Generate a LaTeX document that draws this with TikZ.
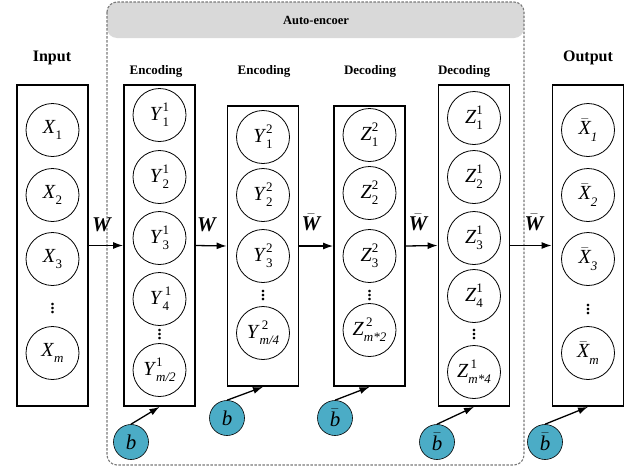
\documentclass[tikz,border=0pt]{standalone}
\usepackage{fontspec}
\setmainfont{Liberation Serif}
\usetikzlibrary{arrows.meta}
\definecolor{biasc}{HTML}{4BACC6}
\definecolor{hdrc}{HTML}{D9D9D9}
\definecolor{dashc}{HTML}{7A7A7A}
\newcommand{\scrf}{\fontsize{13}{13}\selectfont}
\newcommand{\uvar}[3]{\textit{#1}\rlap{\raisebox{0.42em}{\scrf #2}}\raisebox{-0.32em}{\scrf #3}}
\newcommand{\lvar}[2]{\textit{#1}\raisebox{-0.32em}{\scrf #2}}
\newcommand{\barvar}[2]{$\bar{\hbox{\itshape #1}}$\raisebox{-0.32em}{\scrf\itshape #2}}
\newcommand{\bW}{\textbf{\textit{W}}}
\newcommand{\bbW}{$\bar{\hbox{\bfseries\itshape W}}$}
\begin{document}
\begin{tikzpicture}[x=1pt,y=-1pt,
  layer/.style={draw, line width=1.8pt, inner sep=0, minimum width=71pt},
  unit/.style={circle, draw, line width=0.8pt, minimum size=53pt, inner sep=0, font=\fontsize{20}{20}\selectfont},
  vd/.style={inner sep=0, font=\fontsize{22}{22}\selectfont},
  bias/.style={circle, draw, line width=0.6pt, fill=biasc, minimum size=35pt, inner sep=0, font=\fontsize{21}{21}\selectfont},
  wlab/.style={font=\fontsize{21}{21}\selectfont, inner sep=0},
  arr/.style={line width=1.3pt, -{Latex[length=10pt,width=7pt]}},
  maintitle/.style={font=\bfseries\fontsize{16}{16}\selectfont},
  subtitle/.style={font=\bfseries\fontsize{13}{13}\selectfont}]
\useasboundingbox (0,0) rectangle (636,469);

% auto-encoder frame
\fill[hdrc, rounded corners=10pt] (107,2) rectangle (524,38);
\draw[dashc, line width=1.1pt, dash pattern=on 2.5pt off 1.5pt, rounded corners=10pt] (107,2) rectangle (524,465);
\node[font=\bfseries\fontsize{12.5}{12.5}\selectfont] (ae) at (316,20) {Auto-encoer};

% titles
\node[maintitle] (tin) at (52,58) {Input};
\node[maintitle] (tout) at (588,58) {Output};
\node[subtitle] (te1) at (156,71) {Encoding};
\node[subtitle] (te2) at (264,71) {Encoding};
\node[subtitle] (td1) at (370,71) {Decoding};
\node[subtitle] (td2) at (464,71) {Decoding};

% layer boxes
\node[layer, minimum height=321pt] (in) at (52.5,245.5) {};
\node[layer, minimum height=321pt] (e1) at (159.5,245.5) {};
\node[layer, minimum height=280pt] (e2) at (263,246) {};
\node[layer, minimum height=280pt] (d1) at (369.5,246) {};
\node[layer, minimum height=321pt] (d2) at (474,245.5) {};
\node[layer, minimum height=321pt] (out) at (588,245.5) {};

% input units
\node[unit] (x1) at (52.5,130) {\lvar{X}{1}};
\node[unit] (x2) at (52.5,195) {\lvar{X}{2}};
\node[unit] (x3) at (52.5,259) {\lvar{X}{3}};
\node[vd] (xd) at (52.5,306) {$\vdots$};
\node[unit] (xm) at (52.5,353) {\lvar{X}{\itshape m}};

% encoding 1
\node[unit] (y11) at (159.5,115) {\uvar{Y}{1}{1}};
\node[unit] (y12) at (159.5,177) {\uvar{Y}{1}{2}};
\node[unit] (y13) at (159.5,238) {\uvar{Y}{1}{3}};
\node[unit] (y14) at (159.5,299) {\uvar{Y}{\,1}{4}};
\node[vd] (y1d) at (159.5,332) {$\vdots$};
\node[unit] (y1m) at (159.5,370) {\uvar{Y}{1}{\itshape m/2}};

% encoding 2
\node[unit] (y21) at (263,137) {\uvar{Y}{2}{1}};
\node[unit] (y22) at (263,195) {\uvar{Y}{2}{2}};
\node[unit] (y23) at (263,256) {\uvar{Y}{2}{3}};
\node[vd] (y2d) at (263,293) {$\vdots$};
\node[unit] (y2m) at (263,333) {\uvar{Y}{\,2}{\itshape m/4}};

% decoding 1
\node[unit] (z21) at (369.5,135) {\uvar{Z}{2}{1}};
\node[unit] (z22) at (369.5,193) {\uvar{Z}{2}{2}};
\node[unit] (z23) at (369.5,256) {\uvar{Z}{2}{3}};
\node[vd] (z2d) at (369.5,293) {$\vdots$};
\node[unit] (z2m) at (369.5,330) {\uvar{Z}{\,2}{\itshape m*2}};

% decoding 2
\node[unit] (z11) at (474,118) {\uvar{Z}{1}{1}};
\node[unit] (z12) at (474,177) {\uvar{Z}{1}{2}};
\node[unit] (z13) at (474,238) {\uvar{Z}{1}{3}};
\node[unit] (z14) at (474,296) {\uvar{Z}{1}{4}};
\node[vd] (z1d) at (474,332) {$\vdots$};
\node[unit] (z1m) at (474,372) {\uvar{Z}{\,1}{\itshape m*4}};

% output units
\node[unit] (o1) at (588,130) {\barvar{X}{1}};
\node[unit] (o2) at (588,195) {\barvar{X}{2}};
\node[unit] (o3) at (588,259) {\barvar{X}{3}};
\node[vd] (od) at (588,307) {$\vdots$};
\node[unit] (om) at (588,353) {\barvar{X}{m}};

% weight arrows
\draw[arr] (in.east) -- (e1.west);
\draw[arr] (e1.east) -- (e2.west);
\draw[arr] (e2.east) -- (d1.west);
\draw[arr] (d1.east) -- (d2.west);
\draw[arr] (d2.east) -- (out.west);
\node[wlab] (w1) at (102,225) {\bW};
\node[wlab] (w2) at (207,225) {\bW};
\node[wlab] (w3) at (311,222) {\bbW};
\node[wlab] (w4) at (418,222) {\bbW};
\node[wlab] (w5) at (534,222) {\bbW};

% biases
\node[bias] (b1) at (131,442) {\textit{b}};
\node[bias] (b2) at (227,418) {\textit{b}};
\node[bias] (b3) at (335,418) {$\bar{\hbox{\itshape b}}$};
\node[bias] (b4) at (437,442) {$\bar{\hbox{\itshape b}}$};
\node[bias] (b5) at (545,442) {$\bar{\hbox{\itshape b}}$};
\draw[arr] (b1.north) -- (e1.south);
\draw[arr] (b2.north) -- (e2.south);
\draw[arr] (b3.north) -- (d1.south);
\draw[arr] (b4.north) -- (d2.south);
\draw[arr] (b5.north) -- (out.south);
\end{tikzpicture}
\end{document}
